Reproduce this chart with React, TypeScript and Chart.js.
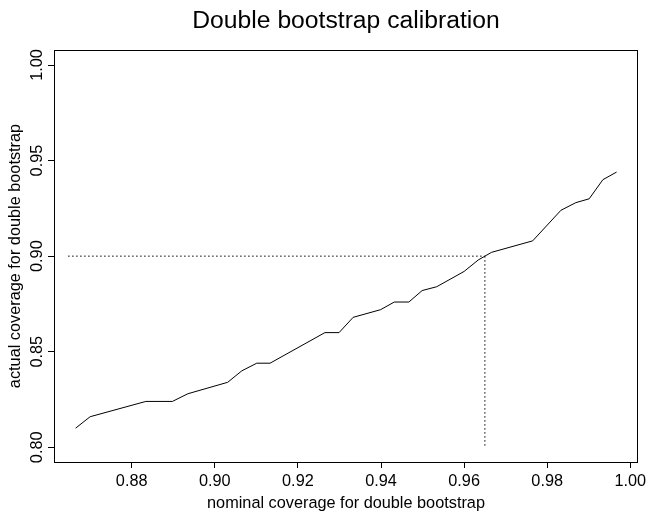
import React, { useEffect, useRef } from "react";
import { Chart, registerables } from "chart.js";

Chart.register(...registerables);

const nominal = [0.8665, 0.87, 0.8834, 0.8898, 0.8935, 0.9031, 0.9065, 0.9101, 0.9133, 0.9265, 0.9299, 0.9333, 0.9399, 0.9432, 0.9467, 0.9499, 0.9534, 0.96, 0.9634, 0.9666, 0.9765, 0.9833, 0.9869, 0.9901, 0.9934, 0.9967];
const actual = [0.81, 0.816, 0.824, 0.824, 0.828, 0.834, 0.84, 0.844, 0.844, 0.86, 0.86, 0.868, 0.872, 0.876, 0.876, 0.882, 0.884, 0.892, 0.898, 0.902, 0.908, 0.924, 0.928, 0.93, 0.94, 0.944];

const targetActual = 0.9;
const targetNominal = 0.965;
const hLineStart = 0.8647;
const vLineBottom = 0.8;

const xTickStep = 0.02;
const yTickStep = 0.05;
const xMin = 0.8613;
const xMax = 1.00185;
const yMin = 0.79231;
const yMax = 1.00785;

const titleText = "Double bootstrap calibration";
const xLabel = "nominal coverage for double bootstrap";
const yLabel = "actual coverage for double bootstrap";

const FONT = '"Liberation Sans", Arial, Helvetica, sans-serif';

export default function App() {
  const ref = useRef<HTMLCanvasElement | null>(null);

  useEffect(() => {
    if (!ref.current) return;
    const boxPlugin = {
      id: "boxAndTitle",
      afterDraw(chart: any) {
        const { ctx, chartArea: ca } = chart;
        ctx.save();
        ctx.strokeStyle = "#000";
        ctx.lineWidth = 1;
        ctx.strokeRect(ca.left + 0.5, ca.top + 0.5, ca.right - ca.left - 1, ca.bottom - ca.top);
        ctx.fillStyle = "#000";
        ctx.font = `24.7px ${FONT}`;
        ctx.textAlign = "center";
        ctx.textBaseline = "alphabetic";
        ctx.fillText(titleText, (ca.left + ca.right) / 2, 28.3);
        ctx.restore();
      },
    };

    const chart = new Chart(ref.current, {
      type: "scatter",
      data: {
        datasets: [
          {
            data: nominal.map((x, i) => ({ x, y: actual[i] })),
            showLine: true,
            borderColor: "#000",
            borderWidth: 1,
            pointRadius: 0,
            borderJoinStyle: "round",
          },
          {
            data: [
              { x: hLineStart, y: targetActual },
              { x: targetNominal, y: targetActual },
            ],
            showLine: true,
            borderColor: "#000",
            borderWidth: 1,
            borderDash: [1.5, 2.5],
            pointRadius: 0,
          },
          {
            data: [
              { x: targetNominal, y: targetActual },
              { x: targetNominal, y: vLineBottom },
            ],
            showLine: true,
            borderColor: "#000",
            borderWidth: 1,
            borderDash: [1.5, 2.5],
            pointRadius: 0,
          },
        ],
      },
      plugins: [boxPlugin],
      options: {
        animation: false,
        responsive: false,
        layout: { padding: { top: 50, right: 9, left: 0, bottom: 0 } },
        plugins: { legend: { display: false }, tooltip: { enabled: false }, title: { display: false } },
        scales: {
          x: {
            type: "linear",
            min: xMin,
            max: xMax,
            border: { display: false },
            grid: { drawOnChartArea: false, drawTicks: true, tickLength: 6, color: "#000", lineWidth: 1 },
            ticks: {
              stepSize: xTickStep,
              includeBounds: false,
              autoSkip: false,
              maxRotation: 0,
              minRotation: 0,
              padding: 3.9,
              color: "#000",
              font: { family: FONT, size: 16.3 },
              callback: (v: any) => Number(v).toFixed(2),
            },
            title: {
              display: true,
              text: xLabel,
              color: "#000",
              font: { family: FONT, size: 16.3 },
              padding: { top: 0, bottom: 1.8 },
            },
            afterFit: (s: any) => {
              s.height = 53;
              s.paddingLeft = 0;
              s.paddingRight = 0;
            },
          },
          y: {
            type: "linear",
            min: yMin,
            max: yMax,
            border: { display: false },
            grid: { drawOnChartArea: false, drawTicks: true, tickLength: 6, color: "#000", lineWidth: 1 },
            ticks: {
              stepSize: yTickStep,
              includeBounds: false,
              autoSkip: false,
              minRotation: 90,
              maxRotation: 90,
              crossAlign: "center",
              padding: -5.56,
              color: "#000",
              font: { family: FONT, size: 16.3 },
              callback: (v: any) => Number(v).toFixed(2),
            },
            title: {
              display: true,
              text: yLabel,
              color: "#000",
              font: { family: FONT, size: 16.3 },
              padding: { top: 6, bottom: 0 },
            },
            afterFit: (s: any) => {
              s.width = 54;
              s.paddingTop = 0;
              s.paddingBottom = 0;
            },
          },
        },
      },
    } as any);
    return () => chart.destroy();
  }, []);

  return (
    <div style={{ position: "absolute", left: 0, top: 0, width: 647, height: 515, background: "#fff" }}>
      <canvas ref={ref} width={647} height={515} style={{ display: "block" }} />
    </div>
  );
}
